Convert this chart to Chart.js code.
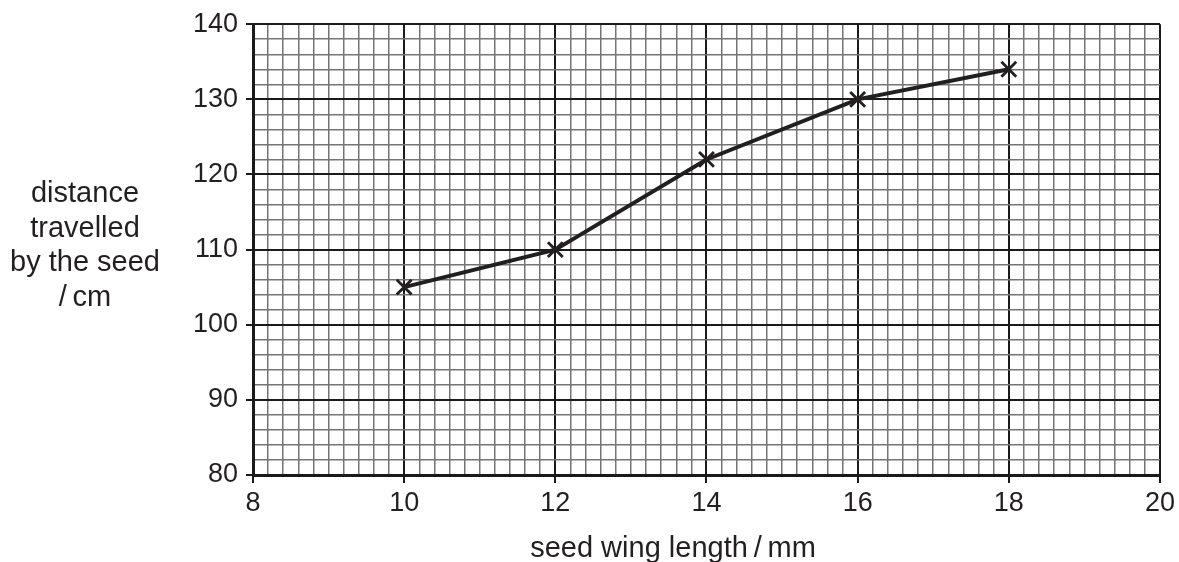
<!DOCTYPE html>
<html>
<head>
<meta charset="utf-8">
<script src="https://cdn.jsdelivr.net/npm/chart.js@4"></script>
<style>
  html, body { margin: 0; padding: 0; background: #fff; }
  canvas { display: block; }
</style>
</head>
<body>
<canvas id="seedChart" width="1179" height="562"></canvas>
<script>
// data
var wingLength = [10, 12, 14, 16, 18];
var distance = [105, 110, 122, 130, 134];

var xMin = 8, xMax = 20, xMinorStep = 0.2, xMajorStep = 2;
var yMin = 80, yMax = 140, yMinorStep = 2, yMajorStep = 10;

var xTitle = 'seed wing length\u2009/\u2009mm';
var yTitle = ['distance', 'travelled', 'by the seed', '/\u2009cm'];

var ink = '#231f20';
var fontName = '"Liberation Sans", Arial, sans-serif';

function isMajor(v, step) {
    var r = v / step;
    return Math.abs(r - Math.round(r)) < 1e-6;
}

function gridTicks(min, max, step) {
    var out = [];
    var n = Math.round((max - min) / step);
    for (var i = 0; i <= n; i++) {
        out.push({ value: +(min + i * step).toFixed(4) });
    }
    return out;
}

var titlesPlugin = {
    id: 'titles',
    afterDraw: function(chart) {
        var ctx = chart.ctx;
        ctx.save();
        ctx.fillStyle = ink;
        ctx.font = '29px ' + fontName;
        ctx.textAlign = 'center';
        ctx.textBaseline = 'alphabetic';
        var base = [202, 236.5, 271, 305.5];
        for (var i = 0; i < yTitle.length; i++) {
            ctx.fillText(yTitle[i], 85, base[i]);
        }
        ctx.fillText(xTitle, 673, 557);
        ctx.restore();
    }
};

var ctx = document.getElementById('seedChart');
var myChart = new Chart(ctx, {
    type: 'line',
    data: {
        datasets: [{
            data: wingLength.map(function(x, i) { return { x: x, y: distance[i] }; }),
            borderColor: ink,
            borderWidth: 4,
            tension: 0,
            fill: false,
            pointStyle: 'crossRot',
            pointRadius: 10.5,
            pointBorderWidth: 2.8,
            pointBorderColor: ink,
            pointBackgroundColor: ink
        }]
    },
    options: {
        responsive: false,
        animation: false,
        devicePixelRatio: 1,
        layout: { padding: { left: 0, top: 20, right: 18, bottom: 0 } },
        plugins: {
            legend: { display: false },
            tooltip: { enabled: false }
        },
        scales: {
            x: {
                type: 'linear',
                min: xMin,
                max: xMax,
                afterBuildTicks: function(scale) {
                    scale.ticks = gridTicks(xMin, xMax, xMinorStep);
                },
                afterFit: function(scale) { scale.height = 87; },
                ticks: {
                    autoSkip: false,
                    maxRotation: 0,
                    padding: 4,
                    color: ink,
                    font: { family: fontName, size: 27 },
                    callback: function(v) {
                        return isMajor(v, xMajorStep) ? String(Math.round(v)) : '';
                    }
                },
                grid: {
                    drawTicks: true,
                    tickLength: 8,
                    color: function(c) { return isMajor(c.tick.value, xMajorStep) ? '#1a1a1a' : '#747474'; },
                    lineWidth: function(c) { return isMajor(c.tick.value, xMajorStep) ? 2 : 1.5; },
                    tickColor: function(c) { return isMajor(c.tick.value, xMajorStep) ? '#1a1a1a' : 'rgba(0,0,0,0)'; },
                    tickWidth: 2
                },
                border: { display: true, color: '#1a1a1a', width: 3 }
            },
            y: {
                type: 'linear',
                min: yMin,
                max: yMax,
                afterBuildTicks: function(scale) {
                    scale.ticks = gridTicks(yMin, yMax, yMinorStep);
                },
                afterFit: function(scale) { scale.width = 253; },
                ticks: {
                    autoSkip: false,
                    padding: 8,
                    color: ink,
                    font: { family: fontName, size: 27 },
                    callback: function(v) {
                        return isMajor(v, yMajorStep) ? String(Math.round(v)) : '';
                    }
                },
                grid: {
                    drawTicks: true,
                    tickLength: 7,
                    color: function(c) { return isMajor(c.tick.value, yMajorStep) ? '#1a1a1a' : '#747474'; },
                    lineWidth: function(c) { return isMajor(c.tick.value, yMajorStep) ? 2 : 1.5; },
                    tickColor: function(c) { return isMajor(c.tick.value, yMajorStep) ? '#1a1a1a' : 'rgba(0,0,0,0)'; },
                    tickWidth: 2
                },
                border: { display: true, color: '#1a1a1a', width: 3 }
            }
        }
    },
    plugins: [titlesPlugin]
});
</script>
</body>
</html>
